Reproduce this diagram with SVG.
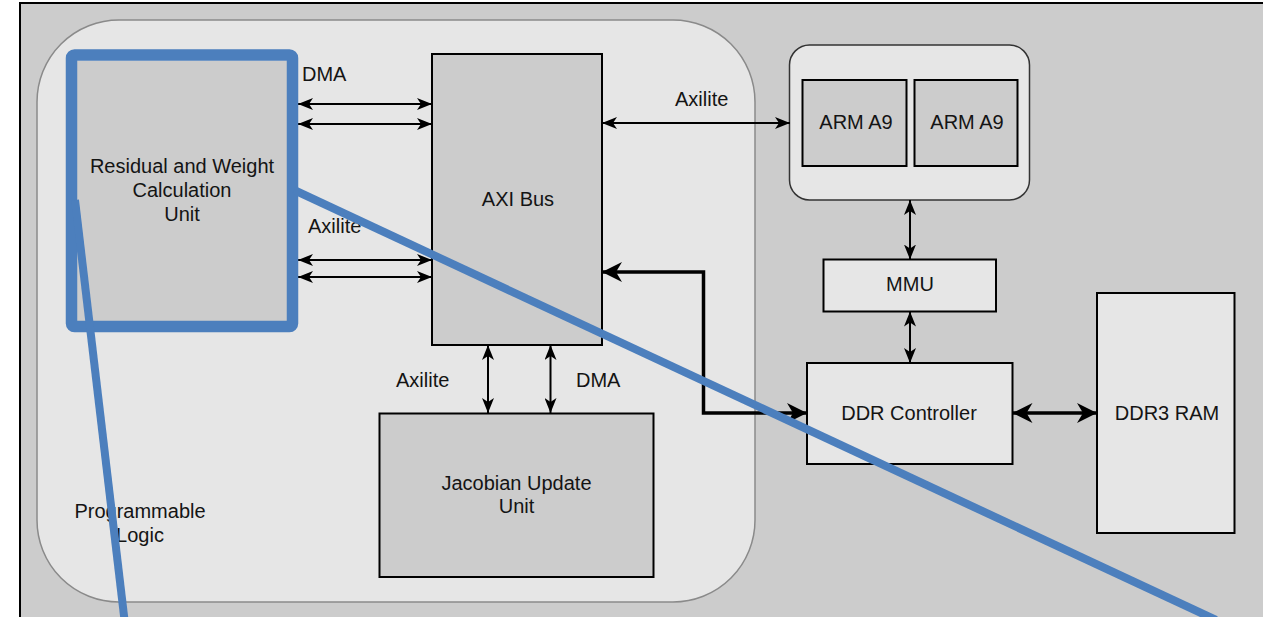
<svg xmlns="http://www.w3.org/2000/svg" width="1263" height="617" viewBox="0 0 1263 617">
<style>
  text { font-family: "Liberation Sans", Arial, Helvetica, sans-serif; font-size: 20px; fill: #141414; }
  .c { text-anchor: middle; }
  .box { stroke: #000; stroke-width: 2; }
  .dark { fill: #cccccc; }
  .light { fill: #e6e6e6; }
  .thin { stroke: #000; stroke-width: 2; fill: none; marker-start: url(#a1); marker-end: url(#a1); }
  .thick { stroke: #000; stroke-width: 3.5; fill: none; marker-start: url(#a2); marker-end: url(#a2); }
  .blue { stroke: #4c7fbd; fill: none; }
</style>
<defs>
  <marker id="a1" markerUnits="userSpaceOnUse" markerWidth="15" markerHeight="12" refX="15" refY="6" orient="auto-start-reverse" viewBox="0 0 15 12">
    <path d="M0,0 L15,6 L0,12 L4,6 Z" fill="#000"/>
  </marker>
  <marker id="a2" markerUnits="userSpaceOnUse" markerWidth="20" markerHeight="20" refX="20" refY="10" orient="auto-start-reverse" viewBox="0 0 20 20">
    <path d="M0,0 L20,10 L0,20 L6,10 Z" fill="#000"/>
  </marker>
</defs>

<rect id="background" x="20" y="3" width="1260" height="630" fill="#cccccc" stroke="#000" stroke-width="2"/>

<g id="programmable-logic">
  <rect x="37" y="20" width="718" height="582" rx="82" ry="82" fill="#e6e6e6" stroke="#8a8a8a" stroke-width="1.5"/>
  <text class="c" x="140" y="518">Programmable</text>
  <text class="c" x="140" y="542">Logic</text>
</g>

<g id="residual-unit">
  <rect x="77" y="61" width="210" height="260" class="dark"/>
  <text class="c" x="182" y="173">Residual and Weight</text>
  <text class="c" x="182" y="197">Calculation</text>
  <text class="c" x="182" y="221">Unit</text>
</g>

<g id="axi-bus">
  <rect x="432" y="54" width="170" height="291" class="box dark"/>
  <text class="c" x="518" y="206">AXI Bus</text>
</g>

<g id="jacobian-unit">
  <rect x="379.5" y="413.5" width="274" height="163.5" class="box dark"/>
  <text class="c" x="516.5" y="490">Jacobian Update</text>
  <text class="c" x="516.5" y="513">Unit</text>
</g>

<g id="arm-cluster">
  <rect x="789.5" y="45" width="240" height="155" rx="20" ry="20" fill="#e6e6e6" stroke="#333" stroke-width="1.5"/>
  <g id="arm-a9-1">
    <rect x="802.5" y="80" width="104" height="86" class="box dark"/>
    <text class="c" x="856" y="129">ARM A9</text>
  </g>
  <g id="arm-a9-2">
    <rect x="914.5" y="80" width="103" height="86" class="box dark"/>
    <text class="c" x="967" y="129">ARM A9</text>
  </g>
</g>

<g id="mmu">
  <rect x="823.5" y="259.5" width="172.5" height="52" class="box light"/>
  <text class="c" x="910" y="291">MMU</text>
</g>

<g id="ddr-controller">
  <rect x="807" y="363" width="205.5" height="101" class="box light"/>
  <text class="c" x="909" y="420">DDR Controller</text>
</g>

<g id="ddr3-ram">
  <rect x="1097" y="293" width="137.5" height="240" class="box light"/>
  <text class="c" x="1167" y="420">DDR3 RAM</text>
</g>

<g id="connectors">
  <path class="thin" d="M298,104 H432"/>
  <path class="thin" d="M298,124 H432"/>
  <path class="thin" d="M298,260 H432"/>
  <path class="thin" d="M298,277 H432"/>
  <path class="thin" d="M602,123 H790"/>
  <path class="thin" d="M488,345 V413"/>
  <path class="thin" d="M550.5,345 V413"/>
  <path class="thin" d="M910,200 V259.5"/>
  <path class="thin" d="M910,311.5 V363"/>
  <path class="thick" d="M602,272 H703.5 V413 H807"/>
  <path class="thick" d="M1012.5,413 H1097"/>
  <text x="302" y="81">DMA</text>
  <text x="308" y="233">Axilite</text>
  <text x="675" y="106">Axilite</text>
  <text x="396" y="387">Axilite</text>
  <text x="576" y="387">DMA</text>
</g>

<g id="annotation">
  <rect x="71.5" y="55" width="221" height="271.5" rx="3" ry="3" class="blue" stroke-width="11.5"/>
  <path class="blue" stroke-width="8" d="M294,190 L1216,620"/>
  <path class="blue" stroke-width="8" d="M75,200 L124.5,620"/>
</g>
</svg>
